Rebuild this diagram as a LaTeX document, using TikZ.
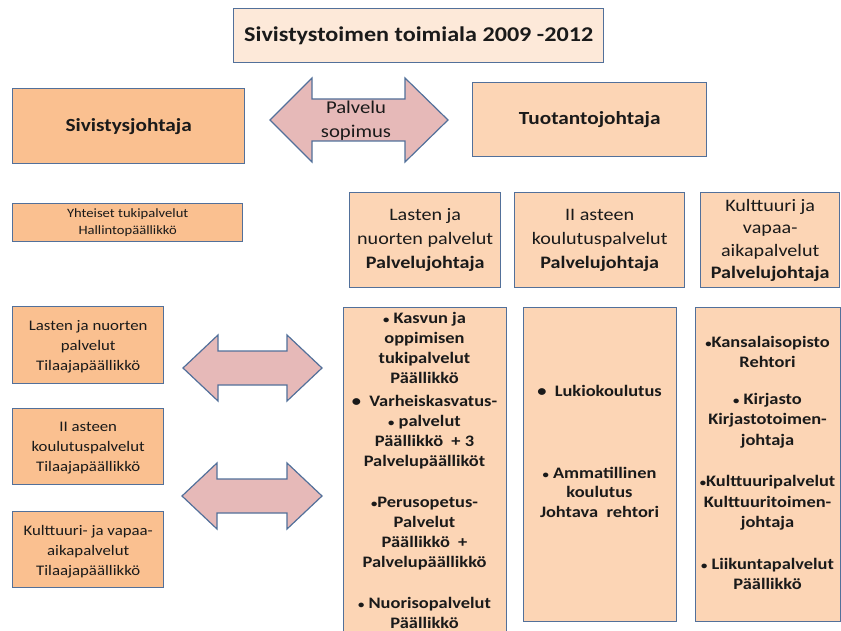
\documentclass[tikz,border=0pt]{standalone}
\usepackage{fontspec}
\setmainfont{Carlito}[FakeStretch=1.15]
\definecolor{edge}{HTML}{52709A}
\definecolor{titlefill}{HTML}{FDE9D9}
\definecolor{orderfill}{HTML}{FAC090}
\definecolor{prodfill}{HTML}{FCD5B5}
\definecolor{arrowfill}{HTML}{E6B9B8}
\definecolor{ink}{HTML}{1A1A1A}
\tikzset{
  box/.style={draw=edge, line width=1.4pt, inner sep=0pt},
  orderbox/.style={box, fill=orderfill},
  prodbox/.style={box, fill=prodfill},
  blockarrow/.style={draw=edge, line width=1.2pt, fill=arrowfill, line join=miter},
  txt/.style={text=ink, align=center, inner sep=0pt},
  unittxt/.style={txt, font=\fontsize{16}{19.5}\selectfont\bfseries},
}
% small and large list bullets
\newcommand{\sbul}{{\fontsize{11}{0}\selectfont •}}
\newcommand{\lbul}{•}
\newcommand{\boxat}[6]{% style, name, x1, y1, x2, y2
  \node[#1, anchor=north west, minimum width=#5pt-#3pt, minimum height=#6pt-#4pt] (#2) at (#3,#4) {};}
\begin{document}
\begin{tikzpicture}[x=1pt, y=-1pt]
\useasboundingbox (0,0) rectangle (841,631);
\clip (0,0) rectangle (841,631);

% heading
\boxat{box, fill=titlefill}{title}{233}{8}{603}{62}
\node[txt, font=\fontsize{21}{24}\selectfont\bfseries] (titletext) at (title.center) {Sivistystoimen toimiala 2009 -2012};

% top level
\boxat{orderbox}{sivjoht}{12}{88}{244}{163}
\node[txt, font=\fontsize{18.5}{20}\selectfont\bfseries] (sivtext) at (sivjoht.center) {Sivistysjohtaja};
\boxat{prodbox}{tuotjoht}{472}{82}{706}{156}
\node[txt, font=\fontsize{18.5}{20}\selectfont\bfseries] (tuottext) at (tuotjoht.center) {Tuotantojohtaja};

% agreement arrow
\draw[blockarrow] (270,120) -- (312,78) -- (312,99) -- (405,99) -- (405,78) -- (448,120)
  -- (405,162) -- (405,141) -- (312,141) -- (312,162) -- cycle;
\node[txt, font=\fontsize{18}{24}\selectfont] (sopimus) at (356,121) {Palvelu\\sopimus};

% common support services
\boxat{orderbox}{yhteiset}{12}{203}{242}{241}
\node[txt, font=\fontsize{12.7}{17}\selectfont] (yhtext) at (yhteiset.center) {Yhteiset tukipalvelut\\Hallintopäällikkö};

% commissioning side
\boxat{orderbox}{tilaaja1}{12}{306}{163}{383}
\node[txt, font=\fontsize{14.6}{20}\selectfont] (t1text) at ([yshift=-1.5pt]tilaaja1.center) {Lasten ja nuorten\\palvelut\\Tilaajapäällikkö};
\boxat{orderbox}{tilaaja2}{12}{408}{163}{484}
\node[txt, font=\fontsize{14.6}{20}\selectfont] (t2text) at ([yshift=-1.5pt]tilaaja2.center) {II asteen\\koulutuspalvelut\\Tilaajapäällikkö};
\boxat{orderbox}{tilaaja3}{12}{511}{163}{587}
\node[txt, font=\fontsize{14.6}{20}\selectfont] (t3text) at ([yshift=-1.5pt]tilaaja3.center) {Kulttuuri- ja vapaa-\\aikapalvelut\\Tilaajapäällikkö};

% arrows between commissioning and production
\draw[blockarrow] (183,368) -- (218,335) -- (218,351) -- (287,351) -- (287,335) -- (322,368)
  -- (287,401) -- (287,385) -- (218,385) -- (218,401) -- cycle;
\draw[blockarrow] (182,496) -- (217,463) -- (217,479) -- (287,479) -- (287,463) -- (322,496)
  -- (287,529) -- (287,513) -- (217,513) -- (217,529) -- cycle;

% production service areas
\boxat{prodbox}{alue1}{349}{192}{500}{287}
\node[txt, font=\fontsize{17.5}{24}\selectfont] (a1text) at (alue1.center) {Lasten ja\\nuorten palvelut\\\textbf{Palvelujohtaja}};
\boxat{prodbox}{alue2}{514}{192}{684}{287}
\node[txt, font=\fontsize{17.5}{24}\selectfont] (a2text) at (alue2.center) {II asteen\\koulutuspalvelut\\\textbf{Palvelujohtaja}};
\boxat{prodbox}{alue3}{700}{192}{839}{287}
\node[txt, font=\fontsize{17.5}{22.5}\selectfont] (a3text) at (alue3.center) {Kulttuuri ja\\vapaa-\\aikapalvelut\\\textbf{Palvelujohtaja}};

% units under each area
\boxat{prodbox}{yks1}{343}{307}{506}{650}
\node[unittxt, font=\fontsize{16}{20}\selectfont\bfseries, anchor=north] (y1text) at (424.5,312)
  {\sbul\ Kasvun ja\\oppimisen\\tukipalvelut\\Päällikkö\\[3pt]
   \lbul\ \ Varheiskasvatus-\\\sbul\ palvelut\\Päällikkö \ + 3\\Palvelupäälliköt\\[21pt]
   \sbul Perusopetus-\\Palvelut\\Päällikkö \ +\\Palvelupäällikkö\\[21pt]
   \sbul\ Nuorisopalvelut\\Päällikkö};
\boxat{prodbox}{yks2}{523}{307}{676}{621}
\node[unittxt] (y2text) at (599.5,391) {\lbul\ \ Lukiokoulutus};
\node[unittxt, anchor=north] (y3text) at (599.5,467)
  {\sbul\ Ammatillinen\\koulutus\\Johtava \ rehtori};
\boxat{prodbox}{yks3}{695}{307}{840}{621}
\node[unittxt, font=\fontsize{16}{20.5}\selectfont\bfseries] (y4text) at (767.5,463)
  {\sbul Kansalaisopisto\\Rehtori\\[16pt]
   \sbul\ Kirjasto\\Kirjastotoimen-\\johtaja\\[21pt]
   \sbul Kulttuuripalvelut\\Kulttuuritoimen-\\johtaja\\[21pt]
   \sbul\ Liikuntapalvelut\\Päällikkö};
\end{tikzpicture}
\end{document}
